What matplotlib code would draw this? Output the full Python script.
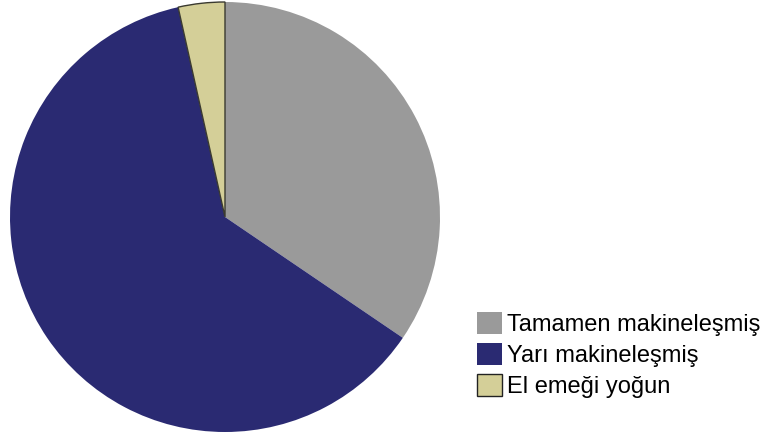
import matplotlib
matplotlib.use("Agg")
import matplotlib.pyplot as plt

# Share of production by level of mechanisation
labels = ["Tamamen makineleşmiş", "Yarı makineleşmiş", "El emeği yoğun"]
shares = [34.5, 62.0, 3.5]
colors = ["#9a9a9a", "#2a2a72", "#d4cf98"]

plt.rcParams["font.family"] = ["Liberation Sans", "DejaVu Sans"]

W, H, DPI = 762, 437, 100
fig = plt.figure(figsize=(W / DPI, H / DPI), dpi=DPI)

cx, cy, r = 225, 217, 215
ax = fig.add_axes([(cx - r) / W, (H - cy - r) / H, 2 * r / W, 2 * r / H])
wedges, _ = ax.pie(shares, colors=colors, startangle=90, counterclock=False,
                   radius=1.0, wedgeprops=dict(linewidth=0))
wedges[2].set_edgecolor("#3a3a30")
wedges[2].set_linewidth(1.0)
ax.set_xlim(-1.0, 1.0)
ax.set_ylim(-1.0, 1.0)
ax.set_aspect("equal")
ax.axis("off")

fs = 17
fs_px = fs * DPI / 72
handles = []
for w in wedges:
    p = plt.Rectangle((0, 0), 1, 1, facecolor=w.get_facecolor(),
                      edgecolor="#222222" if w is wedges[2] else "none",
                      linewidth=1.0)
    handles.append(p)
fig.legend(handles, labels, loc="upper left",
           bbox_to_anchor=(477 / W, 1 - 312 / H), frameon=False,
           fontsize=fs, borderpad=0, borderaxespad=0,
           handlelength=25 / fs_px, handleheight=25 / fs_px,
           labelspacing=0.3, handletextpad=0.2)

fig.savefig("out.png", dpi=DPI)
